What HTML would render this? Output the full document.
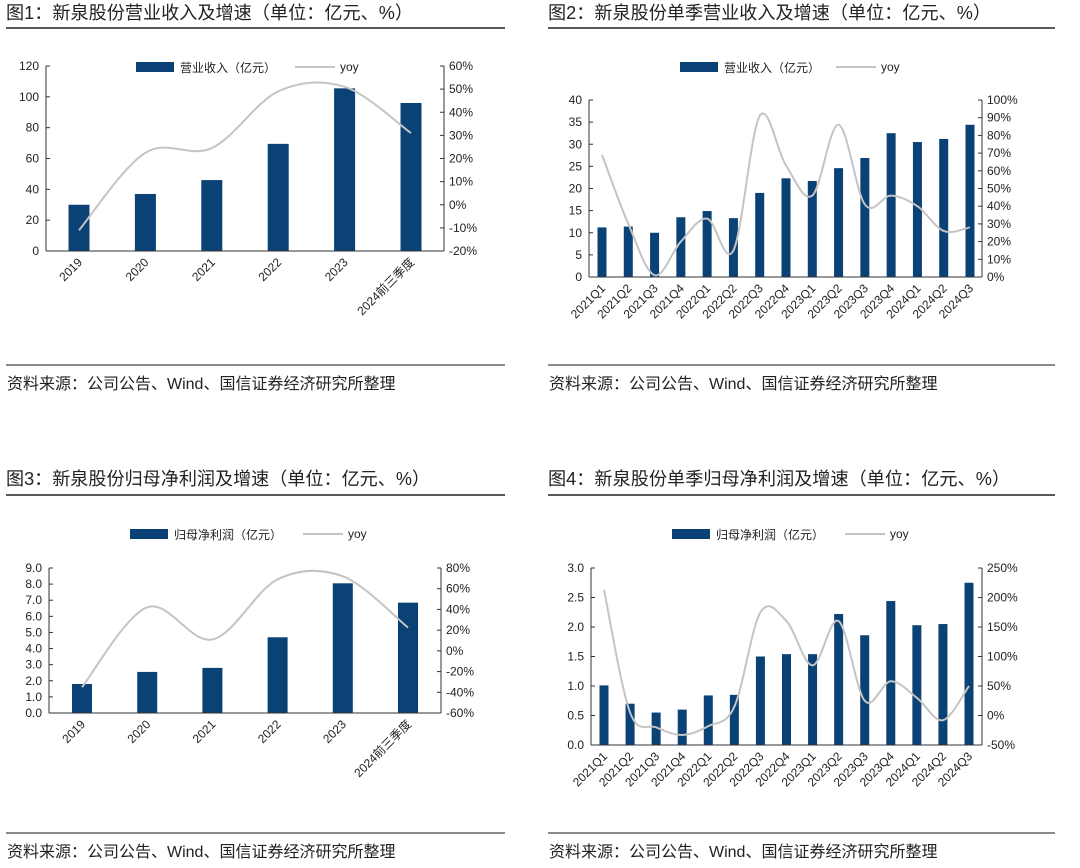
<!DOCTYPE html>
<html><head><meta charset="utf-8">
<style>
body{margin:0;background:#fff;width:1080px;height:863px;overflow:hidden;font-family:"Liberation Sans","Noto Sans CJK SC",sans-serif;}
svg text{font-family:"Liberation Sans","Noto Sans CJK SC",sans-serif;}
</style></head>
<body>
<svg id="root" width="1080" height="863" viewBox="0 0 1080 863" xmlns="http://www.w3.org/2000/svg"></svg>
<script>
// ---- Chart 1 data
const c1Categories = ["2019","2020","2021","2022","2023","2024前三季度"];
const c1Revenue = [30, 37, 46, 69.5, 105.5, 96];
const c1Yoy = [-11, 22.5, 24.5, 49, 51, 31];
const c1LeftTicks = [0,20,40,60,80,100,120];
const c1RightTicks = [-20,-10,0,10,20,30,40,50,60];
// ---- Chart 2 data
const c2Categories = ["2021Q1","2021Q2","2021Q3","2021Q4","2022Q1","2022Q2","2022Q3","2022Q4","2023Q1","2023Q2","2023Q3","2023Q4","2024Q1","2024Q2","2024Q3"];
const c2Revenue = [11.2, 11.4, 10, 13.5, 14.9, 13.3, 19, 22.3, 21.7, 24.6, 26.9, 32.5, 30.5, 31.2, 34.4];
const c2Yoy = [69, 30, 1, 20, 33, 15, 91, 63, 46, 86, 41, 46, 40, 26, 28];
const c2LeftTicks = [0,5,10,15,20,25,30,35,40];
const c2RightTicks = [0,10,20,30,40,50,60,70,80,90,100];
// ---- Chart 3 data
const c3Categories = ["2019","2020","2021","2022","2023","2024前三季度"];
const c3Profit = [1.8, 2.55, 2.8, 4.7, 8.05, 6.85];
const c3Yoy = [-35, 42, 11, 69, 72, 22.5];
const c3LeftTicks = [0,1,2,3,4,5,6,7,8,9];
const c3RightTicks = [-60,-40,-20,0,20,40,60,80];
// ---- Chart 4 data
const c4Categories = ["2021Q1","2021Q2","2021Q3","2021Q4","2022Q1","2022Q2","2022Q3","2022Q4","2023Q1","2023Q2","2023Q3","2023Q4","2024Q1","2024Q2","2024Q3"];
const c4Profit = [1.01, 0.70, 0.55, 0.60, 0.84, 0.85, 1.50, 1.54, 1.54, 2.22, 1.86, 2.44, 2.03, 2.05, 2.75];
const c4Yoy = [213, 5, -20, -33, -18, 15, 175, 160, 85, 160, 25, 58, 30, -8, 50];
const c4LeftTicks = [0,0.5,1,1.5,2,2.5,3];
const c4RightTicks = [-50,0,50,100,150,200,250];

const NS="http://www.w3.org/2000/svg";
const root=document.getElementById('root');
function mk(tag,attrs,parent,text){const e=document.createElementNS(NS,tag);for(const k in attrs)e.setAttribute(k,attrs[k]);if(text!==undefined)e.textContent=text;(parent||root).appendChild(e);return e;}
const BLUE="#0a4275", GRAY="#c4c4c4";

function spline(pts){
  let d="M"+pts[0][0]+","+pts[0][1];
  for(let i=0;i<pts.length-1;i++){
    const p0=pts[i-1]||pts[i],p1=pts[i],p2=pts[i+1],p3=pts[i+2]||p2;
    const t=1/6;
    d+=" C"+(p1[0]+(p2[0]-p0[0])*t)+","+(p1[1]+(p2[1]-p0[1])*t)+" "+(p2[0]-(p3[0]-p1[0])*t)+","+(p2[1]-(p3[1]-p1[1])*t)+" "+p2[0]+","+p2[1];
  }
  return d;
}

function chart(o){
  const g=mk('g',{});
  
  
  const t=mk('text',{x:o.x0,y:o.titleY,'font-size':18,fill:'#222',textLength:o.titleLen,lengthAdjust:'spacingAndGlyphs'},g,o.title);
  
  
  const tl=mk('line',{x1:o.x0,x2:o.x1,y1:o.titleLine,y2:o.titleLine,stroke:'#222','stroke-width':1.6},g);
  
  
  const fl=mk('line',{x1:o.x0,x2:o.x1,y1:o.footLine,y2:o.footLine,stroke:'#444','stroke-width':1.2},g);
  
  
  const st=mk('text',{x:o.x0+1,y:o.footLine+24,'font-size':16,fill:'#222','font-family':'"Liberation Mono","Noto Sans CJK SC",monospace'},g,"资料来源：公司公告、Wind、国信证券经济研究所整理");
  
  
  const n=o.cats.length;
  const xs=i=>o.bx0+i*(o.bx1-o.bx0)/(n-1);
  const yl=v=>o.yBot-(v-o.lt[0])/(o.lt[o.lt.length-1]-o.lt[0])*(o.yBot-o.yTop);
  const yr=v=>o.yBot-(v-o.rt[0])/(o.rt[o.rt.length-1]-o.rt[0])*(o.yBot-o.yTop);
  const la=mk('line',{x1:o.ax,x2:o.ax,y1:o.yTop,y2:o.yBot,stroke:'#333'},g);
  
  
  const ra=mk('line',{x1:o.rx,x2:o.rx,y1:o.yTop,y2:o.yBot,stroke:'#333'},g);
  
  
  o.lt.forEach(v=>{
    const y=yl(v);
    mk('line',{x1:o.ax,x2:o.ax+4,y1:y,y2:y,stroke:'#333'},g);
    const tx=mk('text',{x:o.ax-7,y:y+4,'font-size':12,'text-anchor':'end',fill:'#222'},g,o.lfmt(v));
    
    
  });
  o.rt.forEach(v=>{
    const y=yr(v);
    mk('line',{x1:o.rx-4,x2:o.rx,y1:y,y2:y,stroke:'#333'},g);
    const tx=mk('text',{x:o.rx+5,y:y+4,'font-size':12,fill:'#222'},g,v+"%");
    
    
  });
  o.bars.forEach((v,i)=>{
    const b=mk('rect',{x:xs(i)-o.bw/2,y:yl(v),width:o.bw,height:o.yBot-yl(v),fill:BLUE},g);
    
    
  });
  const bl=mk('line',{x1:o.ax,x2:o.rx,y1:o.yBot,y2:o.yBot,stroke:'#333'},g);
  
  
  const pts=o.yoy.map((v,i)=>[xs(i),yr(v)]);
  const ln=mk('path',{d:spline(pts),fill:'none',stroke:GRAY,'stroke-width':2},g);
  
  
  o.cats.forEach((c,i)=>{
    const x=xs(i)+4,y=o.yBot+12;
    const tx=mk('text',{x:x,y:y,'font-size':12,'text-anchor':'end',fill:'#222',transform:`rotate(-45 ${x} ${y})`},g,c);
    
    
  });
  const ls=mk('rect',{x:o.lgx,y:o.lgy-5,width:38,height:10,fill:BLUE},g);
  
  
  const lt=mk('text',{x:o.lgx+44,y:o.lgy+5,'font-size':12,fill:'#222'},g,o.barLabel);
  
  
  const ll=mk('line',{x1:o.lgx2,x2:o.lgx2+40,y1:o.lgy,y2:o.lgy,stroke:GRAY,'stroke-width':2},g);
  
  
  const lt2=mk('text',{x:o.lgx2+45,y:o.lgy+4,'font-size':12,fill:'#222'},g,"yoy");
  
  
}

chart({name:'chart-1-revenue',title:'图1：新泉股份营业收入及增速（单位：亿元、%）',titleLen:407,x0:6,x1:505,titleY:19,titleLine:28,footLine:365,
  cats:c1Categories,bars:c1Revenue,yoy:c1Yoy,lt:c1LeftTicks,rt:c1RightTicks,lfmt:v=>String(v),
  ax:46,rx:444,yTop:66,yBot:251,bx0:79,bx1:411,bw:21,lgx:136,lgy:67,lgx2:295,barLabel:'营业收入（亿元）'});
chart({name:'chart-2-quarterly-revenue',title:'图2：新泉股份单季营业收入及增速（单位：亿元、%）',titleLen:443,x0:548,x1:1055,titleY:19,titleLine:28,footLine:365,
  cats:c2Categories,bars:c2Revenue,yoy:c2Yoy,lt:c2LeftTicks,rt:c2RightTicks,lfmt:v=>String(v),
  ax:589,rx:982,yTop:100,yBot:277,bx0:602,bx1:970,bw:9,lgx:680,lgy:67,lgx2:836,barLabel:'营业收入（亿元）'});
chart({name:'chart-3-net-profit',title:'图3：新泉股份归母净利润及增速（单位：亿元、%）',titleLen:424,x0:6,x1:505,titleY:485,titleLine:495,footLine:833,
  cats:c3Categories,bars:c3Profit,yoy:c3Yoy,lt:c3LeftTicks,rt:c3RightTicks,lfmt:v=>v.toFixed(1),
  ax:49,rx:441,yTop:568,yBot:713,bx0:82,bx1:408,bw:20,lgx:130,lgy:534,lgx2:303,barLabel:'归母净利润（亿元）'});
chart({name:'chart-4-quarterly-net-profit',title:'图4：新泉股份单季归母净利润及增速（单位：亿元、%）',titleLen:462,x0:548,x1:1055,titleY:485,titleLine:495,footLine:833,
  cats:c4Categories,bars:c4Profit,yoy:c4Yoy,lt:c4LeftTicks,rt:c4RightTicks,lfmt:v=>v.toFixed(1),
  ax:591,rx:982,yTop:568,yBot:745,bx0:604,bx1:969,bw:9,lgx:672,lgy:534,lgx2:845,barLabel:'归母净利润（亿元）'});
</script>
</body></html>
